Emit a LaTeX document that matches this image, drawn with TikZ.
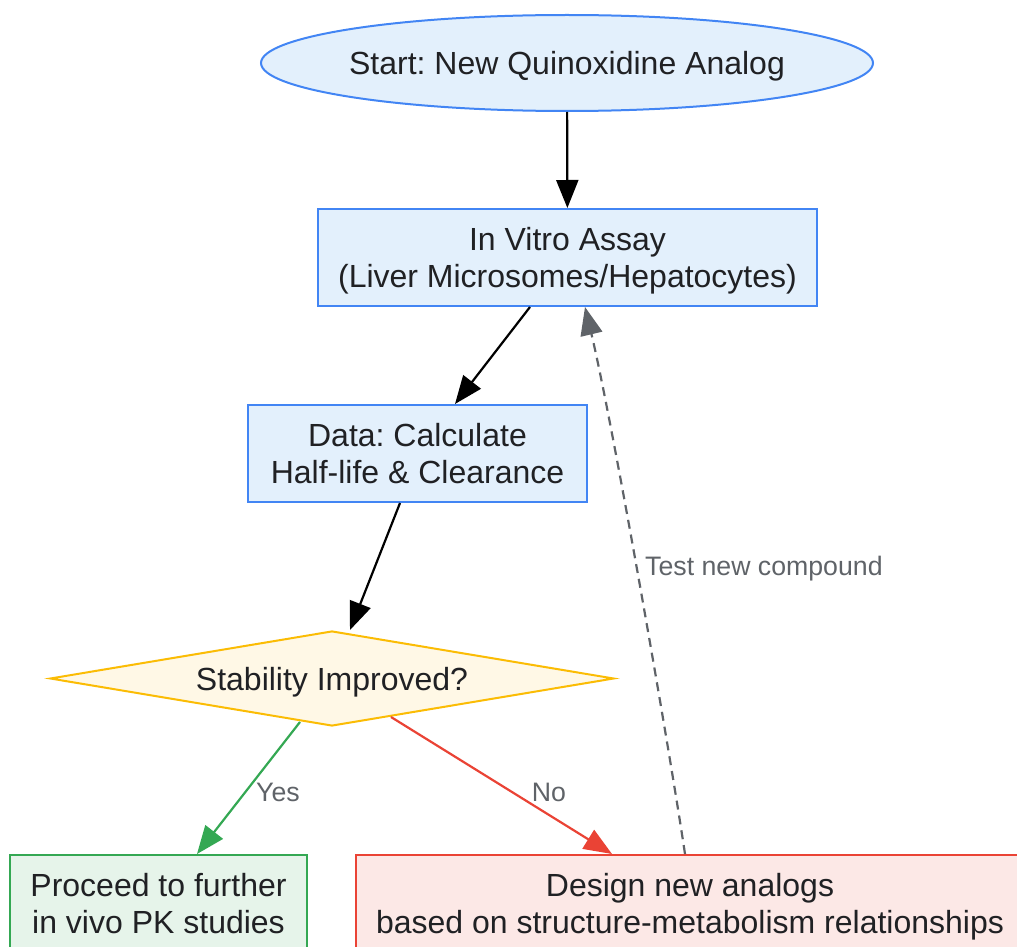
\documentclass[tikz,border=0pt]{standalone}
\usepackage{fontspec}
\setmainfont{Liberation Sans}
\usetikzlibrary{positioning}
\usetikzlibrary{shapes}
\usetikzlibrary{arrows.meta}
\frenchspacing

\definecolor{blueline}{HTML}{4285F4}
\definecolor{bluefill}{HTML}{E3F0FC}
\definecolor{yellowline}{HTML}{FBBC04}
\definecolor{yellowfill}{HTML}{FFF8E6}
\definecolor{greenline}{HTML}{34A853}
\definecolor{greenfill}{HTML}{E6F4EA}
\definecolor{redline}{HTML}{EA4335}
\definecolor{redfill}{HTML}{FCE8E6}
\definecolor{txtdark}{HTML}{202124}
\definecolor{txtgray}{HTML}{5F6368}

\tikzset{
  stepnode/.style={line width=2pt, inner sep=0pt, align=center, text=txtdark, text depth=0pt,
    font=\fontsize{32}{37}\selectfont},
  bluebox/.style={stepnode, rectangle, draw=blueline, fill=bluefill, minimum height=97pt},
  lbl/.style={text=txtgray, inner sep=0pt, font=\fontsize{26.7}{30}\selectfont},
  flow/.style={line width=2.2pt, -{Triangle[length=28pt,width=22pt]}},
}

\begin{document}
\begin{tikzpicture}[x=1pt,y=-1pt]
\useasboundingbox (0,0) rectangle (1017,947);

%nodes
\node[stepnode, ellipse, draw=blueline, fill=bluefill, inner xsep=-3.5pt, minimum width=612pt, minimum height=96pt] (start) at (567,63) {Start: New Quinoxidine Analog};
\node[bluebox, minimum width=499pt] (assay) at (567.5,257.5) {In Vitro Assay\\(Liver Microsomes/Hepatocytes)};
\node[bluebox, minimum width=339pt] (data) at (417.5,453.5) {Data: Calculate\\Half-life \& Clearance};
\node[stepnode, diamond, draw=yellowline, fill=yellowfill, shape aspect=5.9, minimum width=564pt, minimum height=95pt] (check) at (332,678.5) {Stability Improved?};
\node[stepnode, rectangle, draw=greenline, fill=greenfill, minimum width=297pt, minimum height=97pt] (proceed) at (158.5,903.5) {Proceed to further\\in vivo PK studies};
\node[stepnode, rectangle, draw=redline, fill=redfill, minimum width=668pt, minimum height=97pt] (design) at (690,903.5) {Design new analogs\\based on structure-metabolism relationships};

%main flow
\draw[flow] (start) -- (assay);
\draw[flow] ([xshift=-37.5pt]assay.south) -- ([xshift=37.5pt]data.north);
\draw[flow] ([xshift=-17.5pt]data.south) -- ([xshift=18pt]check.north);

%branches
\draw[flow, greenline] ([xshift=-32pt,yshift=5pt]check.south) -- ([xshift=38.5pt]proceed.north);
\draw[flow, redline] ([xshift=59pt,yshift=10pt]check.south) -- ([xshift=-78pt]design.north);
\node[lbl] (yes) at (278,792) {Yes};
\node[lbl] (no) at (549,792) {No};

%loop back
\draw[flow, txtgray, dash pattern=on 9pt off 6pt] ([xshift=-5pt]design.north) .. controls (668,740) and (612,420) .. ([xshift=17.5pt]assay.south);
\node[lbl, anchor=west] (test) at (645,569) {Test new compound};

\end{tikzpicture}
\end{document}
